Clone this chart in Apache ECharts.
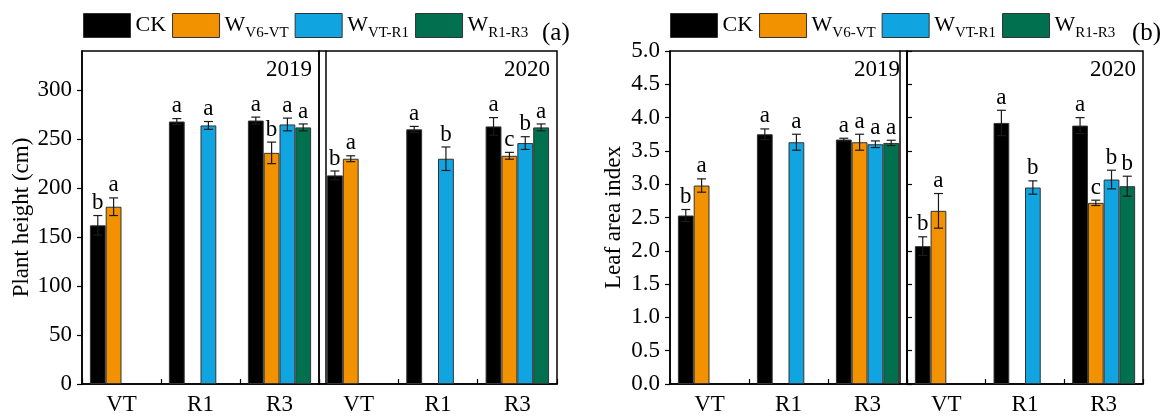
<!DOCTYPE html>
<html>
<head>
<meta charset="utf-8">
<script src="https://cdn.jsdelivr.net/npm/echarts@6/dist/echarts.min.js"></script>
<style>
  html, body { margin: 0; padding: 0; background: #fff; }
  #chart { width: 1162px; height: 416px; }
</style>
</head>
<body>
<div id="chart"></div>
<script>
// Growth stages sampled in each season
const stages = ['VT', 'R1', 'R3'];
// Control and the three water-deficit windows
const treatments = ['CK', 'WV6-VT', 'WVT-R1', 'WR1-R3'];

// Plant height (cm): one row per treatment, one column per stage (null = not sampled)
const height2019 = [[162, 268, 269], [181, null, 236], [null, 264, 265], [null, null, 262]];
const heightErr2019 = [[10, 3, 3.5], [9, null, 11], [null, 4, 6.5], [null, null, 3.5]];
const heightSig2019 = [['b', 'a', 'a'], ['a', null, 'b'], [null, 'a', 'a'], [null, null, 'a']];
const height2020 = [[213, 260, 263], [230, null, 233], [null, 230, 246], [null, null, 262]];
const heightErr2020 = [[4.5, 3, 9], [3, null, 3.5], [null, 12, 6.5], [null, null, 3.5]];
const heightSig2020 = [['b', 'a', 'a'], ['a', null, 'c'], [null, 'b', 'b'], [null, null, 'a']];

// Leaf area index
const lai2019 = [[2.53, 3.75, 3.67], [2.98, null, 3.63], [null, 3.63, 3.60], [null, null, 3.62]];
const laiErr2019 = [[0.09, 0.08, 0.02], [0.10, null, 0.12], [null, 0.12, 0.05], [null, null, 0.04]];
const laiSig2019 = [['b', 'a', 'a'], ['a', null, 'a'], [null, 'a', 'a'], [null, null, 'a']];
const lai2020 = [[2.07, 3.92, 3.88], [2.60, null, 2.72], [null, 2.95, 3.07], [null, null, 2.97]];
const laiErr2020 = [[0.14, 0.19, 0.12], [0.26, null, 0.04], [null, 0.10, 0.14], [null, null, 0.15]];
const laiSig2020 = [['b', 'a', 'a'], ['a', null, 'c'], [null, 'b', 'b'], [null, null, 'b']];

// Axis tick labels
const heightTicks = [0, 50, 100, 150, 200, 250, 300];
const laiTicks = [0, 0.5, 1.0, 1.5, 2.0, 2.5, 3.0, 3.5, 4.0, 4.5, 5.0];
const years = ['2019', '2020'];

// ---- styling and layout ----
const colors = ['#000000', '#F39200', '#10A5E1', '#00704F'];
const FONT = '"Liberation Serif", "Times New Roman", serif';
const FS = 23;
const plotTop = 51, plotHeight = 333;
// [left, width] of each sub-plot: panel (a) 2019, 2020; panel (b) 2019, 2020
const boxes = [[82, 237], [319, 238], [670, 237], [907, 236]];
const axisLine = { show: true, lineStyle: { color: '#000', width: 1.5 } };

const grid = boxes.map(([l, w]) => ({
  left: l, width: w, top: plotTop, height: plotHeight,
  show: true, borderColor: '#000', borderWidth: 1.5, backgroundColor: 'transparent'
}));

const xAxis = boxes.map((_, i) => ({
  type: 'category', gridIndex: i, data: stages,
  axisLine: axisLine,
  axisTick: { show: true, inside: true, length: 5, lineStyle: { color: '#000', width: 1.2 } },
  axisLabel: { color: '#000', fontFamily: FONT, fontSize: FS, margin: 9 },
  splitLine: { show: false }
}));

function valueAxis(gi, max, extra) {
  return Object.assign({
    type: 'value', gridIndex: gi, min: 0, max: max,
    axisLine: axisLine, splitLine: { show: false },
    axisTick: { show: false }, axisLabel: { show: false }
  }, extra);
}

const yAxis = [
  valueAxis(0, 340, {
    name: 'Plant height (cm)', nameLocation: 'middle', nameGap: 47,
    nameTextStyle: { color: '#000', fontFamily: FONT, fontSize: FS },
    axisTick: { show: true, length: 5, customValues: heightTicks, lineStyle: { color: '#000', width: 1.2 } },
    axisLabel: { show: true, customValues: heightTicks, color: '#000', fontFamily: FONT, fontSize: FS, margin: 10 }
  }),
  valueAxis(1, 340, { offset: -7 }),
  valueAxis(2, 5, {
    name: 'Leaf area index', nameLocation: 'middle', nameGap: 45,
    nameTextStyle: { color: '#000', fontFamily: FONT, fontSize: FS },
    axisTick: { show: true, length: 5, customValues: laiTicks, lineStyle: { color: '#000', width: 1.2 } },
    axisLabel: { show: true, customValues: laiTicks, formatter: v => v.toFixed(1),
      color: '#000', fontFamily: FONT, fontSize: FS, margin: 10 }
  }),
  valueAxis(3, 5, {
    axisTick: { show: true, inside: true, length: 5, customValues: laiTicks, lineStyle: { color: '#000', width: 1.2 } }
  }),
  valueAxis(2, 5, { position: 'right', offset: -7 })
];

function barSeries(gi, yi, values) {
  return values.map((row, t) => ({
    type: 'bar', name: treatments[t], xAxisIndex: gi, yAxisIndex: yi,
    data: row.map(v => (v == null ? '-' : v)),
    barGap: '0%', barCategoryGap: '20%',
    itemStyle: { color: colors[t], borderColor: '#333', borderWidth: 1 },
    silent: true
  }));
}

// Error bars plus significance letters, centred on each treatment's bar slot
function errorSeries(gi, yi, values, errs, sigs) {
  const rows = [];
  values.forEach((row, t) => row.forEach((v, s) => {
    if (v != null) rows.push({ stage: s, slot: t, value: v, err: errs[t][s], sig: sigs[t][s] });
  }));
  return {
    type: 'custom', xAxisIndex: gi, yAxisIndex: yi, z: 10, silent: true,
    data: rows.map(r => [r.stage, r.value, r.err, r.slot]),
    renderItem(params, api) {
      const r = rows[params.dataIndex];
      const band = api.size([1, 0])[0];
      const barW = band * 0.8 / treatments.length;
      const cx = api.coord([r.stage, r.value])[0] + (r.slot - (treatments.length - 1) / 2) * barW;
      const yHi = api.coord([r.stage, r.value + r.err])[1];
      const yLo = api.coord([r.stage, r.value - r.err])[1];
      const cap = 4.5;
      const ls = { stroke: '#1a1a1a', lineWidth: 1.2 };
      return {
        type: 'group',
        children: [
          { type: 'line', shape: { x1: cx, y1: yHi, x2: cx, y2: yLo }, style: ls },
          { type: 'line', shape: { x1: cx - cap, y1: yHi, x2: cx + cap, y2: yHi }, style: ls },
          { type: 'line', shape: { x1: cx - cap, y1: yLo, x2: cx + cap, y2: yLo }, style: ls },
          { type: 'text', x: cx, y: yHi - 1,
            style: { text: r.sig, font: FS + 'px ' + FONT, fill: '#000',
              align: 'center', verticalAlign: 'bottom', textAlign: 'center', textVerticalAlign: 'bottom' } }
        ]
      };
    }
  };
}

const series = [].concat(
  barSeries(0, 0, height2019), [errorSeries(0, 0, height2019, heightErr2019, heightSig2019)],
  barSeries(1, 1, height2020), [errorSeries(1, 1, height2020, heightErr2020, heightSig2020)],
  barSeries(2, 2, lai2019), [errorSeries(2, 2, lai2019, laiErr2019, laiSig2019)],
  barSeries(3, 3, lai2020), [errorSeries(3, 3, lai2020, laiErr2020, laiSig2020)]
);

function legend(left) {
  return {
    left: left, top: 13, padding: 0, orient: 'horizontal',
    data: treatments, icon: 'rect', itemWidth: 47, itemHeight: 24, itemGap: 6,
    selectedMode: false,
    itemStyle: { borderColor: '#333', borderWidth: 1 },
    formatter: name => (name === 'CK' ? '{w|CK}' : '{w|W}{s|' + name.slice(1) + '}'),
    textStyle: {
      color: '#000', fontFamily: FONT, fontSize: 22,
      rich: {
        w: { fontFamily: FONT, fontSize: 22, lineHeight: 30, color: '#000' },
        s: { fontFamily: FONT, fontSize: 15, lineHeight: 14, verticalAlign: 'bottom', color: '#000' }
      }
    }
  };
}

function text(str, x, y, size, align) {
  return { type: 'text', x: x, y: y, silent: true,
    style: { text: str, font: size + 'px ' + FONT, fill: '#000',
      align: align, verticalAlign: 'middle', textAlign: align, textVerticalAlign: 'middle' } };
}

const graphic = [];
boxes.forEach(([l, w], i) => graphic.push(text(years[i % 2], l + w - 7, plotTop + 19, FS, 'right')));
graphic.push(text('(a)', boxes[1][0] + boxes[1][1] - 15, 33, 25, 'left'));
graphic.push(text('(b)', boxes[3][0] + boxes[3][1] - 11, 33, 25, 'left'));

const chart = echarts.init(document.getElementById('chart'), null, { renderer: 'canvas' });
chart.setOption({
  animation: false,
  backgroundColor: '#fff',
  grid: grid,
  xAxis: xAxis,
  yAxis: yAxis,
  legend: [legend(83), legend(670)],
  series: series,
  graphic: graphic
});
</script>
</body>
</html>
